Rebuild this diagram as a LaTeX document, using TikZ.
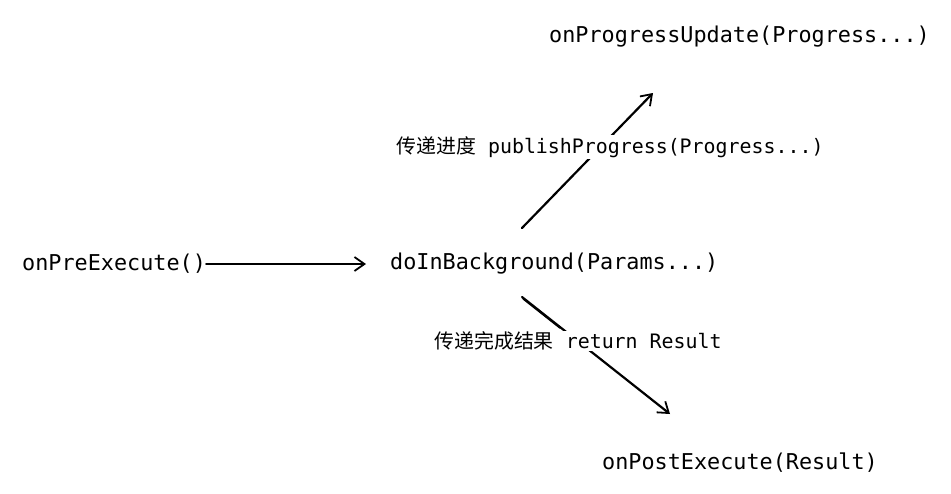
\documentclass[tikz,border=0pt]{standalone}
\usepackage{fontspec}
\setmonofont{DejaVu Sans Mono}
\newfontfamily\cjk{Noto Sans CJK SC}
\usetikzlibrary{arrows.meta,calc}
\begin{document}
\begin{tikzpicture}[x=1pt,y=-1pt,
  fn/.style={inner sep=0pt,font=\fontsize{21.8}{24}\selectfont\ttfamily,anchor=west},
  lbl/.style={inner sep=1pt,fill=white,font=\fontsize{19.9}{22}\selectfont\ttfamily},
  arr/.style={line width=2.2pt,line cap=round,-{Straight Barb[length=10pt,width=14pt,line width=1.8pt]}}]
\useasboundingbox (0,0) rectangle (951,493);
\node[fn] (pre) at (22,264) {onPreExecute()};
\node[fn] (bg) at (390,264) {doInBackground(Params...)};
\node[fn] (upd) at (549,37) {onProgressUpdate(Progress...)};
\node[fn] (post) at (602,463) {onPostExecute(Result)};
\coordinate (u1) at (522,228);
\coordinate (u2) at (653,93);
\coordinate (d1) at (522,297);
\coordinate (d2) at (670,414);
\coordinate (preend) at (366,264);
\draw[arr] (pre.east) -- (preend);
\draw[arr] (u1) -- (u2);
\draw[arr] (d1) -- (d2);
\draw[line width=1.2pt] ([xshift=1pt,yshift=-2pt]d1) -- ([xshift=1pt,yshift=-2pt]$(d1)!0.25!(d2)$);
\node[lbl] (lup) at (610,147) {{\cjk 传递进度} publishProgress(Progress...)};
\node[lbl] (ldn) at (578,341) {{\cjk 传递完成结果} return Result};
\end{tikzpicture}
\end{document}
